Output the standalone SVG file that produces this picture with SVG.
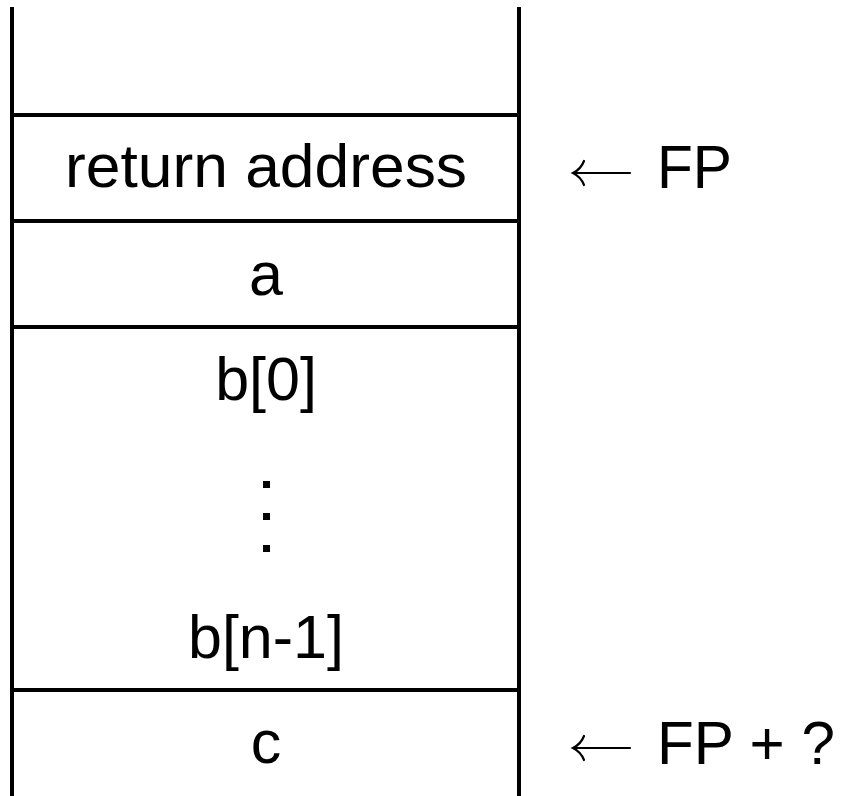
<svg xmlns="http://www.w3.org/2000/svg" width="843" height="796" viewBox="0 0 843 796">
  <style>
    .wall { stroke: #000; stroke-width: 4; fill: none; }
    .sep { stroke: #000; stroke-width: 4; fill: none; }
    .lbl { font-family: "Liberation Sans", Arial, sans-serif; font-size: 61px; fill: #000; }
    .mid { text-anchor: middle; }
    .ptr { stroke: #000; stroke-width: 2.2; fill: none; stroke-linecap: round; }
  </style>
  <rect width="843" height="796" fill="#fff"/>

  <!-- stack frame walls -->
  <g id="stack">
    <line class="wall" x1="12" y1="7" x2="12" y2="796"/>
    <line class="wall" x1="519" y1="7" x2="519" y2="796"/>
  </g>

  <!-- slot separators -->
  <g id="separators">
    <line class="sep" x1="12" y1="115" x2="519" y2="115"/>
    <line class="sep" x1="12" y1="221" x2="519" y2="221"/>
    <line class="sep" x1="12" y1="327" x2="519" y2="327"/>
    <line class="sep" x1="12" y1="690" x2="519" y2="690"/>
  </g>

  <g id="slot-return">
    <text class="lbl mid" x="266" y="187" textLength="402" lengthAdjust="spacingAndGlyphs">return address</text>
  </g>
  <g id="slot-a">
    <text class="lbl mid" x="266" y="295">a</text>
  </g>
  <g id="slot-b">
    <text class="lbl mid" x="266" y="400">b[0]</text>
    <rect x="263" y="481" width="7" height="7"/>
    <rect x="263" y="513" width="7" height="7"/>
    <rect x="263" y="545" width="7" height="7"/>
    <text class="lbl mid" x="266" y="658">b[n-1]</text>
  </g>
  <g id="slot-c">
    <text class="lbl mid" x="266" y="763">c</text>
  </g>

  <!-- frame pointer annotations -->
  <g id="connectors">
    <path class="ptr" d="M630,173 H574 M584,161 Q581,169 573,173 Q581,177 584,185"/>
    <path class="ptr" d="M630,748 H574 M584,736 Q581,744 573,748 Q581,752 584,760"/>
  </g>
  <g id="fp">
    <text class="lbl" x="657" y="188" textLength="75" lengthAdjust="spacingAndGlyphs">FP</text>
  </g>
  <g id="fp-offset">
    <text class="lbl" x="657" y="764" textLength="178" lengthAdjust="spacingAndGlyphs">FP + ?</text>
  </g>
</svg>
